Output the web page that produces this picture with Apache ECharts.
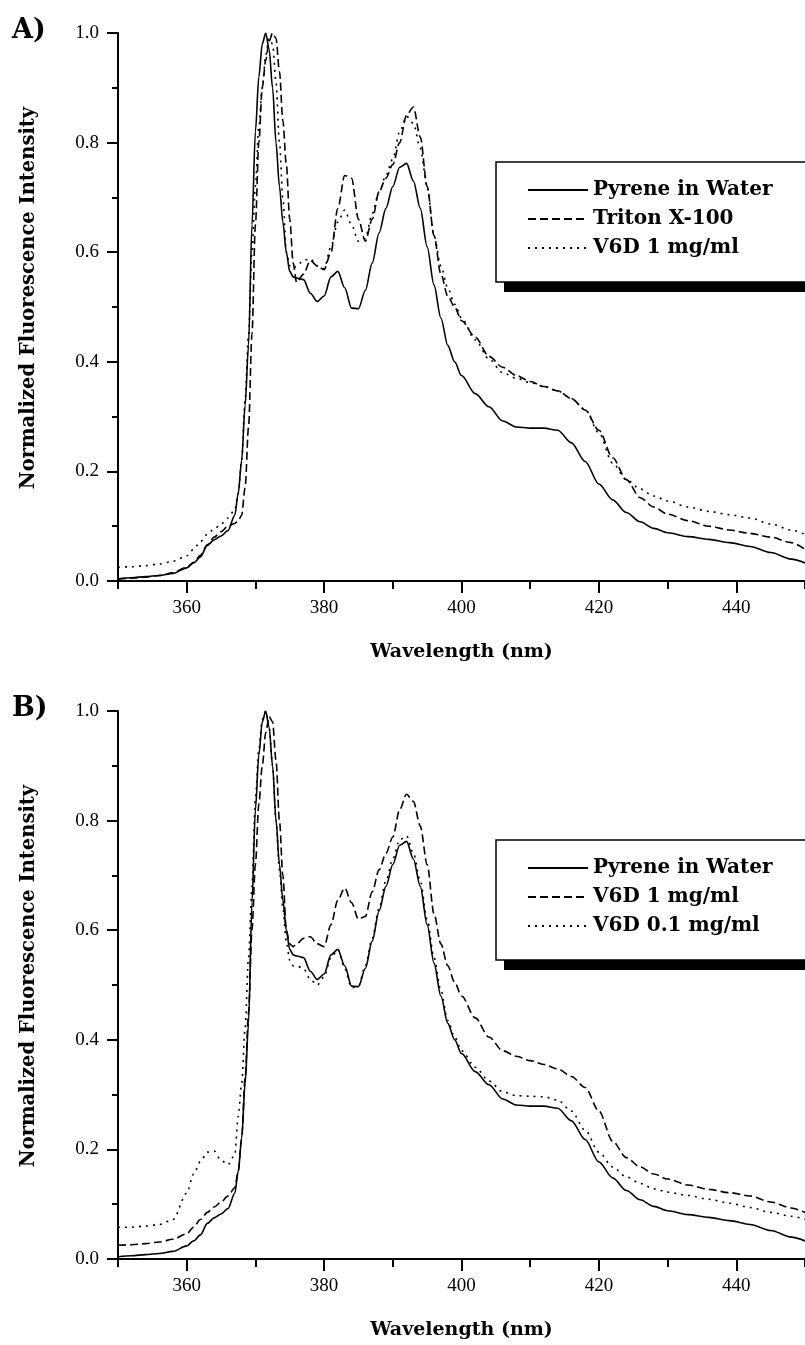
<!DOCTYPE html>
<html>
<head>
<meta charset="utf-8">
<script src="https://cdn.jsdelivr.net/npm/echarts@6/dist/echarts.min.js"></script>
<style>html,body{margin:0;padding:0;background:#fff}#c{width:805px;height:1345px}</style>
</head>
<body>
<div id="c"></div>
<script>
const wavelengths = [350,352,354,356,358,360,361,362,363,364,365,366,367,367.5,368,368.5,369,369.5,370,370.5,371,371.5,372,372.5,373,373.5,374,374.5,375,375.5,376,377,378,379,380,381,382,383,384,385,386,387,388,389,390,391,392,393,394,395,396,397,398,399,400,402,404,406,408,410,412,414,416,418,420,422,424,426,428,430,433,436,439,442,445,448,450];

const pyreneWater = [0.004,0.006,0.008,0.010,0.014,0.024,0.033,0.044,0.065,0.075,0.082,0.092,0.12,0.16,0.22,0.32,0.43,0.65,0.82,0.92,0.98,1.0,0.97,0.90,0.80,0.72,0.655,0.60,0.565,0.555,0.553,0.55,0.525,0.51,0.52,0.555,0.565,0.535,0.498,0.497,0.53,0.58,0.635,0.68,0.72,0.755,0.762,0.73,0.68,0.61,0.54,0.48,0.43,0.40,0.375,0.342,0.318,0.292,0.281,0.279,0.279,0.275,0.252,0.218,0.177,0.148,0.125,0.108,0.096,0.088,0.081,0.076,0.070,0.063,0.052,0.040,0.033];

const tritonX100 = [0.003,0.005,0.007,0.010,0.015,0.025,0.034,0.047,0.066,0.08,0.09,0.1,0.105,0.11,0.12,0.17,0.28,0.45,0.65,0.8,0.9,0.95,0.985,1.0,0.99,0.93,0.84,0.76,0.66,0.58,0.545,0.56,0.585,0.575,0.568,0.6,0.68,0.74,0.735,0.66,0.62,0.66,0.71,0.735,0.76,0.8,0.85,0.865,0.81,0.72,0.63,0.56,0.52,0.5,0.475,0.445,0.41,0.39,0.375,0.364,0.355,0.347,0.333,0.312,0.275,0.225,0.185,0.152,0.135,0.122,0.11,0.1,0.093,0.087,0.08,0.07,0.058];

const v6d1 = [0.025,0.026,0.028,0.031,0.036,0.046,0.058,0.072,0.085,0.095,0.104,0.115,0.13,0.16,0.22,0.33,0.45,0.6,0.72,0.83,0.9,0.96,0.99,0.98,0.91,0.8,0.7,0.6,0.575,0.57,0.575,0.585,0.588,0.575,0.57,0.61,0.655,0.677,0.65,0.62,0.625,0.67,0.71,0.74,0.77,0.82,0.848,0.835,0.79,0.72,0.63,0.575,0.535,0.505,0.48,0.44,0.405,0.38,0.37,0.362,0.355,0.347,0.333,0.313,0.27,0.215,0.185,0.168,0.155,0.146,0.135,0.127,0.121,0.115,0.104,0.093,0.085];

const v6d01 = [0.058,0.058,0.06,0.063,0.072,0.12,0.155,0.178,0.195,0.197,0.18,0.172,0.19,0.26,0.32,0.42,0.55,0.68,0.84,0.93,0.985,1.0,0.97,0.9,0.8,0.71,0.64,0.58,0.545,0.535,0.535,0.53,0.51,0.5,0.515,0.55,0.565,0.53,0.495,0.498,0.535,0.585,0.64,0.69,0.73,0.765,0.772,0.74,0.69,0.62,0.55,0.49,0.435,0.405,0.38,0.35,0.325,0.305,0.298,0.297,0.296,0.29,0.27,0.235,0.195,0.168,0.15,0.138,0.128,0.122,0.116,0.109,0.102,0.094,0.085,0.078,0.072];

const xMajorTicks = [360,380,400,420,440];
const xMinorTicks = [350,370,390,410,430,450];
const panelLabels = ['A)','B)'];
const xAxisTitle = 'Wavelength (nm)';
const yAxisTitle = 'Normalized Fluorescence Intensity';
const legendA = ['Pyrene in Water','Triton X-100','V6D 1 mg/ml'];
const legendB = ['Pyrene in Water','V6D 1 mg/ml','V6D 0.1 mg/ml'];

const pairs = vals => wavelengths.map((w,i)=>[w, vals[i]]);

const TICKFONT = 'Liberation Serif';
const BOLDFONT = 'DejaVu Serif';
const styles = {
  solid: {type:'solid'},
  dashed: {type:[8,4]},
  dotted: {type:[2,5]}
};

const gridTops = [33, 711];
const grids = gridTops.map(t => ({left:118, top:t, width:691, height:548}));

const xAxes = [], yAxes = [];
gridTops.forEach((t,gi) => {
  xAxes.push({
    type:'value', gridIndex:gi, min:350, max:450,
    name:xAxisTitle, nameLocation:'middle', nameGap:62,
    nameTextStyle:{fontFamily:BOLDFONT, fontWeight:'bold', fontSize:19, color:'#000'},
    axisLine:{show:true, onZero:false, lineStyle:{color:'#000', width:2}},
    axisTick:{show:true, customValues:xMajorTicks, length:12, lineStyle:{color:'#000', width:2}},
    axisLabel:{customValues:xMajorTicks, margin:18, fontFamily:TICKFONT, fontSize:19, color:'#000'},
    splitLine:{show:false}
  });
  xAxes.push({
    type:'value', gridIndex:gi, min:350, max:450, position:'bottom',
    axisLine:{show:false, onZero:false},
    axisTick:{show:true, customValues:xMinorTicks, length:8, lineStyle:{color:'#000', width:2}},
    axisLabel:{show:false},
    splitLine:{show:false}
  });
  yAxes.push({
    type:'value', gridIndex:gi, min:0, max:1.0, interval:0.2,
    name:yAxisTitle, nameLocation:'middle', nameGap:79, nameRotate:90,
    nameTextStyle:{fontFamily:BOLDFONT, fontWeight:'bold', fontSize:19.5, color:'#000', padding:[0,0,0,18]},
    axisLine:{show:true, onZero:false, lineStyle:{color:'#000', width:2}},
    axisTick:{show:true, length:11, lineStyle:{color:'#000', width:2}},
    minorTick:{show:true, splitNumber:2, length:6, lineStyle:{color:'#000', width:2}},
    axisLabel:{margin:19, fontFamily:TICKFONT, fontSize:19, color:'#000', formatter: v => v.toFixed(1)},
    splitLine:{show:false}
  });
});

function mkSeries(name, vals, style, gi){
  return {
    type:'line', name:name, data:pairs(vals), xAxisIndex:gi*2, yAxisIndex:gi,
    symbol:'none', smooth:0.3, smoothMonotone:'x',
    lineStyle:{color:'#000', width:1.6, type:styles[style].type},
    itemStyle:{color:'#000'}
  };
}

const series = [
  mkSeries(legendA[0], pyreneWater, 'solid', 0),
  mkSeries(legendA[1], tritonX100, 'dashed', 0),
  mkSeries(legendA[2], v6d1, 'dotted', 0),
  mkSeries(legendB[0] + '\u200b', pyreneWater, 'solid', 1),
  mkSeries(legendB[1] + '\u200b', v6d1, 'dashed', 1),
  mkSeries(legendB[2] + '\u200b', v6d01, 'dotted', 1)
];

const legendBoxTops = [162, 840];
function legendFor(gi, names){
  return {
    orient:'vertical', left:527, top:legendBoxTops[gi]+18, padding:0,
    itemWidth:60, itemHeight:14, itemGap:9, itemTextGap:8,
    selectedMode:false, z:10,
    itemStyle:{opacity:0},
    textStyle:{fontFamily:BOLDFONT, fontWeight:'bold', fontSize:20, color:'#000', lineHeight:20},
    data: names.map(n=>({name:n}))
  };
}

const legA = legendFor(0, legendA);
const legB = legendFor(1, legendB.map(n => n + '\u200b'));

const graphics = [];
legendBoxTops.forEach(t => {
  graphics.push({type:'rect', z:1, shape:{x:504, y:t+10, width:400, height:120}, style:{fill:'#000'}});
  graphics.push({type:'rect', z:2, shape:{x:496, y:t, width:400, height:120}, style:{fill:'#fff', stroke:'#000', lineWidth:1.5}});
});

const titles = panelLabels.map((txt,i)=>({
  text:txt, left:12, top:gridTops[i]-16, padding:0,
  textStyle:{fontFamily:BOLDFONT, fontWeight:'bold', fontSize:27, color:'#000'}
}));

const chart = echarts.init(document.getElementById('c'), null, {renderer:'canvas'});
chart.setOption({
  backgroundColor:'#fff',
  animation:false,
  title:titles,
  grid:grids,
  xAxis:xAxes,
  yAxis:yAxes,
  legend:[legA, legB],
  graphic:graphics,
  series:series
});
</script>
</body>
</html>
